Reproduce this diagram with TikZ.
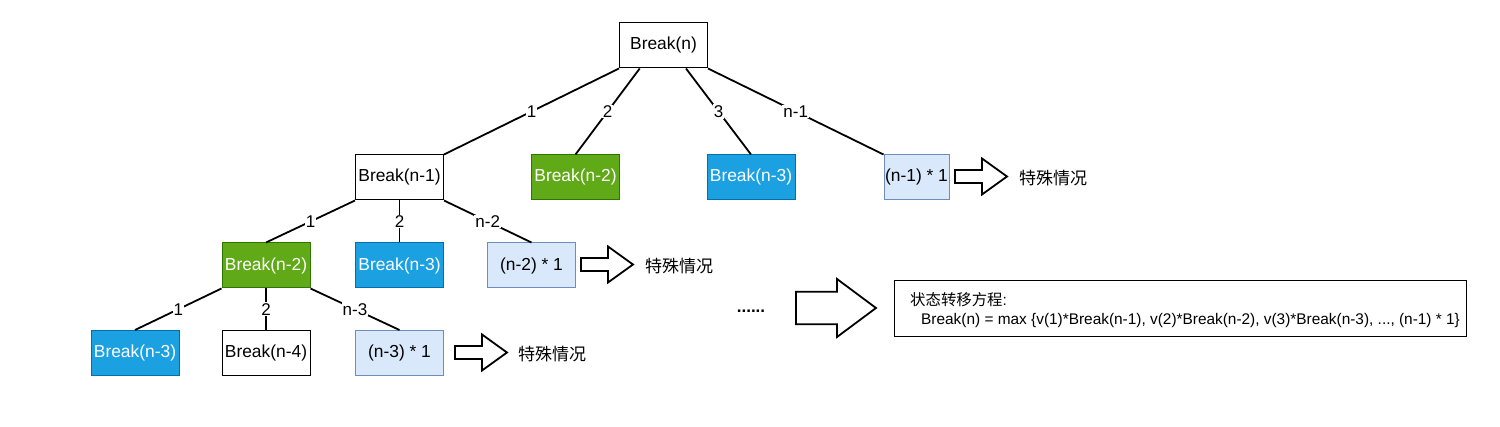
\documentclass[tikz,border=0pt]{standalone}
\usepackage{fontspec}
\setmainfont{Liberation Sans}
\newfontfamily\cjk{Noto Sans CJK SC}
\definecolor{gfill}{HTML}{60A917}
\definecolor{gline}{HTML}{2D7600}
\definecolor{bfill}{HTML}{1BA1E2}
\definecolor{bline}{HTML}{006EAF}
\definecolor{lfill}{HTML}{DAE8FC}
\definecolor{lline}{HTML}{6C8EBF}

\begin{document}
\begin{tikzpicture}[x=1pt,y=-1pt]
  \tikzset{box/.style = {shape=rectangle,draw,line width=1pt,minimum width=88pt,minimum height=45pt,inner sep=1pt,font=\fontsize{17.4}{20}\selectfont}}
  \tikzset{gbox/.style = {box,fill=gfill,draw=gline,text=white}}
  \tikzset{bbox/.style = {box,fill=bfill,draw=bline,text=white}}
  \tikzset{lbox/.style = {box,fill=lfill,draw=lline}}
  \tikzset{link/.style = {-,line width=1.8pt}}
  \tikzset{lbl/.style = {fill=white,inner sep=1pt,font=\fontsize{17}{20}\selectfont}}
  \tikzset{note/.style = {anchor=west,inner sep=0pt,font=\cjk\fontsize{17}{20}\selectfont}}
  \tikzset{fatarrow/.pic = {\draw[line width=1.8pt,line join=miter] (0,-6.5) -- (27,-6.5) -- (27,-18) -- (52,0) -- (27,18) -- (27,6.5) -- (0,6.5) -- cycle;}}
  \useasboundingbox (0,0) rectangle (1500,427);

	\node[box] (top) at (663.5,45.5) {Break(n)};

	\node[box] (a1) at (399.5,177.5) {Break(n-1)};
	\node[gbox] (a2) at (575.5,177.5) {Break(n-2)};
	\node[bbox] (a3) at (751,177.5) {Break(n-3)};
	\node[lbox,minimum width=65pt] (a4) at (916.5,177.5) {(n-1) * 1};

	\node[gbox] (b1) at (266,265.5) {Break(n-2)};
	\node[bbox] (b2) at (399.5,265.5) {Break(n-3)};
	\node[lbox] (b3) at (531.5,265.5) {(n-2) * 1};

	\node[bbox] (c1) at (135,353) {Break(n-3)};
	\node[box] (c2) at (266,353) {Break(n-4)};
	\node[lbox] (c3) at (399.5,353) {(n-3) * 1};

	\path (top.south west) edge[link] node[lbl]{1} (a1.north east);
	\path ([xshift=20.7pt]top.south west) edge[link] node[lbl]{2} (a2.north);
	\path ([xshift=-22pt]top.south east) edge[link] node[lbl]{3} (a3.north);
	\path (top.south east) edge[link] node[lbl]{n-1} (a4.north west);

	\path (a1.south west) edge[link] node[lbl]{1} (b1.north);
	\path (a1.south) edge[link] node[lbl]{2} (b2.north);
	\path (a1.south east) edge[link] node[lbl]{n-2} (b3.north);

	\path (b1.south west) edge[link] node[lbl]{1} (c1.north);
	\path (b1.south) edge[link] node[lbl]{2} (c2.north);
	\path (b1.south east) edge[link] node[lbl]{n-3} (c3.north);

	% special cases
	\pic at (955,176.5) {fatarrow};
	\node[note] (s1) at (1019,178) {特殊情况};
	\pic at (581,264.5) {fatarrow};
	\node[note] (s2) at (645,266) {特殊情况};
	\pic at (455,352.5) {fatarrow};
	\node[note] (s3) at (518,354) {特殊情况};

	\node[font=\bfseries\fontsize{17}{20}\selectfont,inner sep=0pt] (dots) at (751,311) {......};
	\draw[line width=1.8pt,line join=miter] (796,291.7) -- (837,291.7) -- (837,279) -- (876,308) -- (837,337) -- (837,324.3) -- (796,324.3) -- cycle;

	\node[draw,line width=1pt,minimum width=572pt,minimum height=56pt] (frm) at (1180,309) {};
	\node[anchor=west,align=left,inner sep=0pt,font=\fontsize{15.4}{18.7}\selectfont] (eqn) at (910,310)
	  {{\cjk 状态转移方程}:\\ \hspace*{11pt}Break(n) = max \{v(1)*Break(n-1), v(2)*Break(n-2), v(3)*Break(n-3), ..., (n-1) * 1\}};

\end{tikzpicture}
\end{document}
